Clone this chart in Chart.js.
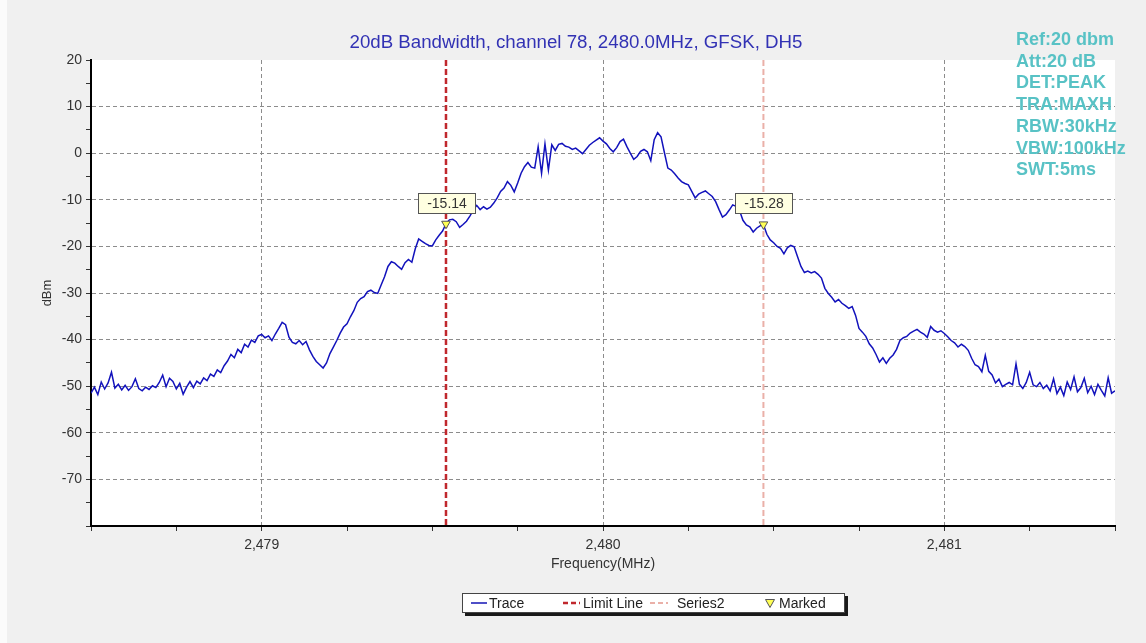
<!DOCTYPE html>
<html lang="en">
<head>
  <meta charset="UTF-8" />
  <title>20dB Bandwidth – channel 78</title>
  <script src="https://cdn.jsdelivr.net/npm/chart.js"></script>
</head>
<body>
  <div class="page">
    <div class="edge"></div>
    <canvas id="bwChart" width="1146" height="643"></canvas>

    <!-- заголовок -->
    <div id="title">20dB Bandwidth, channel 78, 2480.0MHz, GFSK, DH5</div>

    <!-- настройки анализатора -->
    <div id="info">
      <div>Ref:20 dbm</div>
      <div>Att:20 dB</div>
      <div>DET:PEAK</div>
      <div>TRA:MAXH</div>
      <div>RBW:30kHz</div>
      <div>VBW:100kHz</div>
      <div>SWT:5ms</div>
    </div>

    <!-- легенда -->
    <div id="legend">
      <svg class="sample" style="left:8px" width="16" height="4"><line x1="0" y1="2" x2="16" y2="2" stroke="#1414b4" stroke-width="1.5"/></svg>
      <span style="left:26px">Trace</span>
      <svg class="sample" style="left:100px" width="17" height="4"><line x1="0" y1="2" x2="17" y2="2" stroke="#c0282d" stroke-width="2.5" stroke-dasharray="5 3"/></svg>
      <span style="left:120px">Limit Line</span>
      <svg class="sample" style="left:187px" width="18" height="4"><line x1="0" y1="2" x2="18" y2="2" stroke="#eab0a8" stroke-width="2" stroke-dasharray="5 3"/></svg>
      <span style="left:214px">Series2</span>
      <svg class="sample tri" style="left:302px" width="10" height="9"><polygon points="0.5,0.5 9.5,0.5 5,8.5" fill="#ffff55" stroke="#555" stroke-width="1"/></svg>
      <span style="left:316px">Marked</span>
    </div>
  </div>

  <script>
    // трасса: шаг 10 кГц, от 2478.50 МГц
    const freqStartMHz = 2478.5;
    const freqStepMHz = 0.01;
    const traceDbm = [
      -51.5, -50.2, -51.8, -49.1, -50.6, -49.3, -47.0, -50.4, -49.6, -50.8,
      -49.8, -50.9, -50.1, -48.4, -50.5, -51.0, -50.2, -50.7, -49.9, -50.3,
      -49.2, -47.6, -50.1, -48.3, -49.0, -50.6, -49.4, -51.7, -50.2, -49.0,
      -50.3, -48.9, -49.5, -48.2, -48.8, -47.4, -47.9, -46.5, -47.1, -45.6,
      -44.6, -43.2, -43.9, -42.1, -42.8, -41.0, -41.6, -40.1, -40.6, -39.2,
      -38.9, -39.6, -39.2, -40.2, -38.8, -37.6, -36.3, -36.8, -39.5, -40.6,
      -40.9, -40.2, -41.1, -40.4, -42.2, -43.6, -44.7, -45.4, -46.1, -45.0,
      -43.0, -41.6, -40.2, -38.6, -37.3, -36.6, -35.1, -33.8, -32.0, -31.2,
      -30.8, -29.7, -29.4, -29.9, -30.1, -28.3, -26.5, -24.3, -23.3, -23.6,
      -24.3, -24.9, -23.5, -22.8, -23.4, -20.5, -18.4, -18.9, -19.4, -19.8,
      -19.9, -18.6, -17.6, -16.7, -15.1, -14.3, -14.2, -14.7, -15.9, -15.3,
      -14.6, -13.5, -12.2, -11.2, -12.1, -11.5, -12.0, -11.6, -10.7, -9.6,
      -8.2, -7.5, -6.1, -6.9, -8.3, -6.4, -4.3, -2.9, -2.0, -3.0,
      -3.2, 1.4, -4.3, 2.0, -3.6, 1.8, 0.6, 1.9, 2.1, 1.5,
      1.3, 0.8, 1.1, 0.5, -0.1, 0.8, 1.7, 2.3, 2.8, 3.3,
      2.6, 2.0, 1.0, 0.3, 1.2, 2.5, 3.0, 1.4, 0.0, -1.3,
      -0.7, 0.4, 0.8, 0.3, -1.6, 2.9, 4.4, 3.5, 0.1, -3.2,
      -3.6, -4.4, -5.3, -6.1, -6.5, -6.8, -8.2, -9.6, -8.8, -8.4,
      -8.1, -8.7, -9.3, -10.4, -12.1, -13.7, -13.2, -12.2, -11.1, -11.4,
      -12.3, -14.4, -15.4, -15.8, -16.9, -16.1, -15.6, -15.3, -17.4, -18.6,
      -19.2, -20.0, -20.4, -21.6, -20.3, -19.8, -20.1, -22.2, -24.3, -25.6,
      -25.3, -25.7, -25.4, -26.0, -26.8, -29.0, -30.1, -30.9, -31.9, -31.4,
      -32.2, -32.7, -33.3, -32.9, -34.8, -37.6, -38.4, -39.3, -40.9, -41.8,
      -43.2, -44.8, -43.9, -45.1, -44.0, -43.3, -42.1, -40.2, -39.6, -39.3,
      -38.6, -38.2, -37.8, -38.4, -38.8, -39.5, -37.2, -38.0, -38.4, -38.1,
      -38.7, -39.4, -40.2, -40.7, -41.6, -41.0, -41.5, -42.3, -44.0, -45.4,
      -45.8, -46.9, -43.4, -46.8, -47.6, -49.3, -48.5, -50.1, -49.6, -49.2,
      -49.7, -45.2, -49.6, -50.5, -49.2, -47.0, -49.7, -50.1, -49.2, -50.5,
      -49.8, -51.0, -48.4, -51.6, -50.2, -52.0, -49.1, -50.7, -48.0, -51.2,
      -50.3, -48.3, -51.4, -50.0, -51.8, -49.6, -50.9, -52.1, -48.2, -51.5,
      -51.0
    ];

    const limitLineMHz = [2479.54];
    const series2MHz = [2480.47];
    const markerMHz = [2479.54, 2480.47];
    const markerDbm = [-15.14, -15.28];
    const markerLabels = ['-15.14', '-15.28'];

    const xMin = 2478.5, xMax = 2481.5;
    const yMin = -80, yMax = 20;

    const FONT = '"Liberation Sans", Arial, sans-serif';
    Chart.defaults.font.family = FONT;

    const tracePoints = traceDbm.map((v, i) => ({ x: freqStartMHz + i * freqStepMHz, y: v }));
    const vLine = f => [{ x: f, y: yMax }, { x: f, y: yMin }];
    const isWhole = v => Math.abs(v - Math.round(v)) < 1e-6;

    // белый фон только под областью графика
    const plotBg = {
      id: 'plotBg',
      beforeDraw(chart) {
        const { ctx, chartArea: a } = chart;
        ctx.save();
        ctx.fillStyle = '#fff';
        ctx.fillRect(a.left, a.top, a.right - a.left, a.bottom - a.top);
        ctx.restore();
      }
    };

    // подписи маркеров
    const markerTags = {
      id: 'markerTags',
      afterDatasetsDraw(chart) {
        const { ctx, scales: { x, y } } = chart;
        ctx.save();
        ctx.font = '14px ' + FONT;
        ctx.textAlign = 'center';
        ctx.textBaseline = 'middle';
        markerMHz.forEach((f, i) => {
          const px = Math.round(x.getPixelForValue(f)) + 1;
          const py = y.getPixelForValue(markerDbm[i]);
          const w = 58, h = 21, top = Math.round(py - 31);
          ctx.fillStyle = '#ffffe1';
          ctx.fillRect(px - w / 2, top, w, h);
          ctx.strokeStyle = '#555';
          ctx.lineWidth = 1;
          ctx.strokeRect(px - w / 2 + 0.5, top + 0.5, w - 1, h - 1);
          ctx.fillStyle = '#333';
          ctx.fillText(markerLabels[i], px, top + h / 2 + 1);
        });
        ctx.restore();
      }
    };

    new Chart(document.getElementById('bwChart'), {
      type: 'line',
      data: {
        datasets: [
          {
            label: 'Marked',
            type: 'scatter',
            data: markerMHz.map((f, i) => ({ x: f, y: markerDbm[i] })),
            pointStyle: 'triangle',
            rotation: 180,
            radius: 5,
            backgroundColor: '#ffff55',
            borderColor: '#555',
            borderWidth: 1
          },
          {
            label: 'Trace',
            data: tracePoints,
            borderColor: '#1212bc',
            borderWidth: 1.5,
            pointRadius: 0,
            tension: 0
          },
          {
            label: 'Limit Line',
            data: vLine(limitLineMHz[0]),
            borderColor: '#c0282d',
            borderWidth: 2.5,
            borderDash: [6, 3],
            pointRadius: 0
          },
          {
            label: 'Series2',
            data: vLine(series2MHz[0]),
            borderColor: '#eab0a8',
            borderWidth: 2,
            borderDash: [6, 3],
            pointRadius: 0
          }
        ]
      },
      options: {
        responsive: false,
        animation: false,
        layout: { padding: { left: 30, right: 31, top: 60, bottom: 0 } },
        plugins: {
          legend: { display: false },
          tooltip: { enabled: false },
          title: { display: false }
        },
        scales: {
          x: {
            type: 'linear',
            min: xMin,
            max: xMax,
            afterFit: s => { s.height = 117; },
            ticks: {
              stepSize: 0.25,
              autoSkip: false,
              maxRotation: 0,
              padding: 6,
              color: '#333',
              font: { size: 14 },
              callback: v => isWhole(v) ? Number(v).toLocaleString('en-US') : ''
            },
            grid: {
              color: c => isWhole(c.tick.value) ? '#8c8c8c' : 'rgba(0,0,0,0)',
              tickColor: '#333',
              tickLength: 5,
              lineWidth: 1
            },
            border: { display: true, color: '#000', width: 2, dash: [4, 3] },
            title: {
              display: true,
              text: 'Frequency(MHz)',
              color: '#333',
              font: { size: 14 },
              padding: { top: 0, bottom: 70 }
            }
          },
          y: {
            min: yMin,
            max: yMax,
            afterFit: s => { s.width = 61; },
            ticks: {
              stepSize: 5,
              padding: 4,
              color: '#333',
              font: { size: 14 },
              callback: v => (v % 10 === 0 && v !== yMin) ? v : ''
            },
            grid: {
              color: c => (c.tick.value % 10 === 0 && c.tick.value !== yMin && c.tick.value !== yMax) ? '#8c8c8c' : 'rgba(0,0,0,0)',
              tickColor: '#333',
              tickLength: 5,
              lineWidth: 1
            },
            border: { display: true, color: '#000', width: 2, dash: [4, 3] },
            title: {
              display: true,
              text: 'dBm',
              color: '#333',
              font: { size: 13 },
              padding: { top: 10, bottom: 0 }
            }
          }
        }
      },
      plugins: [plotBg, markerTags]
    });
  </script>

  <style>
    body {
      margin: 0;
      background: #f0f0f0;
      font-family: "Liberation Sans", Arial, sans-serif;
    }

    .page {
      position: relative;
      width: 1146px;
      height: 643px;
      overflow: hidden;
    }

    .edge {
      position: absolute;
      left: 0;
      top: 0;
      width: 7px;
      height: 643px;
      background: #fbfbfb;
    }

    #bwChart {
      position: absolute;
      left: 0;
      top: 0;
    }

    #title {
      position: absolute;
      left: 0;
      width: 1152px;
      top: 31px;
      text-align: center;
      font-size: 18.7px;
      line-height: 22px;
      color: #3232b4;
    }

    #info {
      position: absolute;
      left: 1016px;
      top: 29px;
      font-size: 18px;
      font-weight: bold;
      line-height: 21.7px;
      color: #58c2c5;
    }

    #legend {
      position: absolute;
      left: 462px;
      top: 593px;
      width: 381px;
      height: 18px;
      background: #fff;
      border: 1px solid #444;
      box-shadow: 3px 3px 0 #1a1a1a;
      font-size: 14px;
      color: #222;
    }

    #legend span {
      position: absolute;
      top: 0;
      line-height: 18px;
    }

    #legend .sample {
      position: absolute;
      top: 7px;
    }

    #legend .tri {
      top: 5px;
    }
  </style>
</body>
</html>
